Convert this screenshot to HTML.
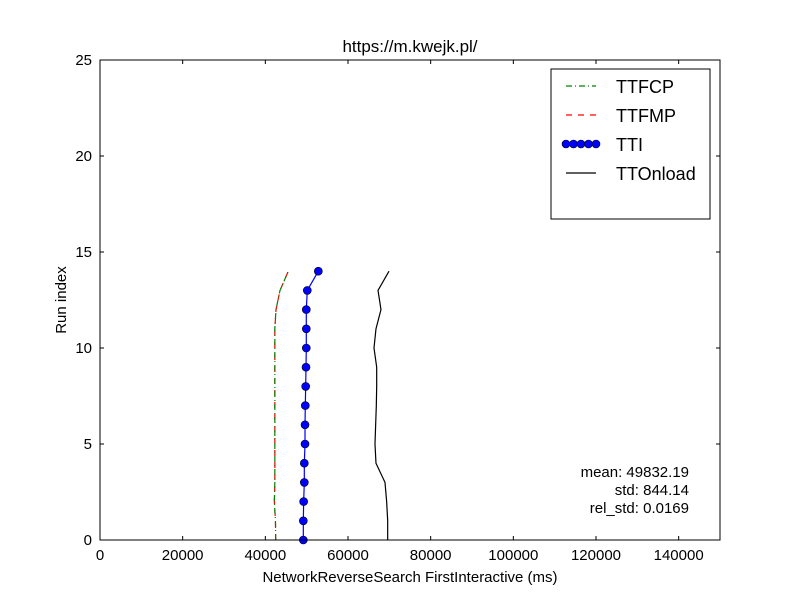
<!DOCTYPE html>
<html><head><meta charset="utf-8"><style>
body{margin:0;background:#fff}
svg{display:block;font-family:"Liberation Sans",Arial,sans-serif}
</style></head><body>
<svg id="chart" width="800" height="600" xmlns="http://www.w3.org/2000/svg">
<rect width="800" height="600" fill="#fff"/>
<g id="plot"></g>
</svg>
<script>
const runIndex=[0,1,2,3,4,5,6,7,8,9,10,11,12,13,14];
const ttfcp=[42500,42450,42180,42300,42300,42300,42300,42300,42300,42300,42300,42300,42580,43550,45560];
const ttfmp=[42500,42450,42180,42300,42300,42300,42300,42300,42300,42300,42300,42300,42580,43550,45560];
const tti=[49190,49190,49270,49430,49430,49600,49600,49670,49760,49840,49910,49910,49910,50150,52820];
const ttonload=[69600,69600,69350,68950,66770,66530,66690,66850,66940,66940,66290,66770,67980,67260,69920];
const xTicks=[0,20000,40000,60000,80000,100000,120000,140000];
const yTicks=[0,5,10,15,20,25];
const statsLines=["mean: 49832.19","std: 844.14","rel_std: 0.0169"];

const L=100,R=720,T=60,B=540,xMax=150000,yMax=25;
const X=v=>L+v*(R-L)/xMax, Y=v=>B-v*(B-T)/yMax;
const NS="http://www.w3.org/2000/svg";
const g=document.getElementById('plot');
function el(tag,attrs,parent){const e=document.createElementNS(NS,tag);for(const k in attrs)e.setAttribute(k,attrs[k]);(parent||g).appendChild(e);return e;}
function pts(arr){return arr.map((v,i)=>X(v)+','+Y(runIndex[i])).join(' ');}

let l;
l=el('polyline',{points:pts(ttonload),fill:'none',stroke:'#000','stroke-width':1.2});

l=el('polyline',{points:pts(ttfmp),fill:'none',stroke:'#f00','stroke-width':1.2,'stroke-dasharray':'6,6'});

l=el('polyline',{points:pts(ttfcp),fill:'none',stroke:'#008000','stroke-width':1.2,'stroke-dasharray':'6,3,1,3'});

l=el('polyline',{points:pts(tti),fill:'none',stroke:'#00f','stroke-width':1.2});

tti.forEach((v,i)=>{const c=el('circle',{cx:X(v),cy:Y(runIndex[i]),r:4,fill:'#00f',stroke:'#000','stroke-width':0.6});
});

const fr=el('rect',{x:L,y:T,width:R-L,height:B-T,fill:'none',stroke:'#000','stroke-width':1});


xTicks.forEach(v=>{const x=X(v);
el('line',{x1:x,y1:B,x2:x,y2:B-4,stroke:'#000'});el('line',{x1:x,y1:T,x2:x,y2:T+4,stroke:'#000'});
const t=el('text',{x:x,y:B+20,'text-anchor':'middle','font-size':15});t.textContent=v;
});
yTicks.forEach(v=>{const y=Y(v);
el('line',{x1:L,y1:y,x2:L+4,y2:y,stroke:'#000'});el('line',{x1:R,y1:y,x2:R-4,y2:y,stroke:'#000'});
const t=el('text',{x:L-8,y:y+5,'text-anchor':'end','font-size':15});t.textContent=v;
});

let t=el('text',{x:410,y:52,'text-anchor':'middle','font-size':17});t.textContent='https://m.kwejk.pl/';

t=el('text',{x:410,y:582,'text-anchor':'middle','font-size':15});t.textContent='NetworkReverseSearch FirstInteractive (ms)';

t=el('text',{x:66,y:300,'text-anchor':'middle','font-size':15,transform:'rotate(-90 66 300)'});t.textContent='Run index';


statsLines.forEach((s,i)=>{const a=el('text',{x:689,y:477+i*18,'text-anchor':'end','font-size':15});a.textContent=s;
});

const lg=el('g',{});

el('rect',{x:551,y:69,width:159,height:150,fill:'#fff',stroke:'#000'},lg);
const entries=[['TTFCP','#008000','6,3,1,3',false],['TTFMP','#f00','6,6',false],['TTI','#00f','',true],['TTOnload','#000','',false]];
entries.forEach((e,i)=>{const y=86+i*29;
const ln=el('line',{x1:566,y1:y,x2:596,y2:y,stroke:e[1],'stroke-width':1.2},lg);
if(e[2])ln.setAttribute('stroke-dasharray',e[2]);
if(e[3])[566,573.5,581,588.5,596].forEach(cx=>el('circle',{cx:cx,cy:y,r:4,fill:'#00f',stroke:'#000','stroke-width':0.6},lg));
const tx=el('text',{x:616,y:y+7,'font-size':18},lg);tx.textContent=e[0];
});
</script>
</body></html>
